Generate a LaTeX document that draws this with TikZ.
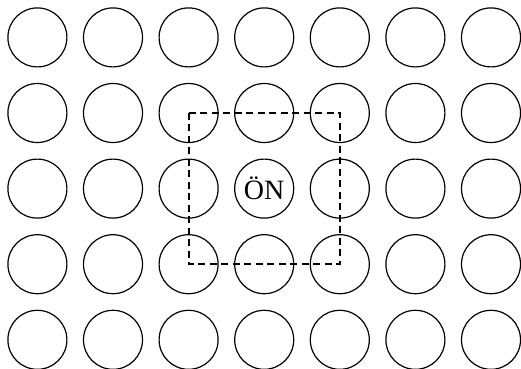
\documentclass[tikz,border=0pt]{standalone}
\usepackage{fontspec}
\setmainfont{Liberation Serif}
\begin{document}
\begin{tikzpicture}[x=1pt,y=-1pt,
  cell/.style={circle,draw=black,line width=1.2pt,minimum size=59pt,inner sep=0pt},
  lbl/.style={font=\fontsize{28}{30}\selectfont},
  win/.style={draw=black,line width=2.2pt,dash pattern=on 7pt off 4.5pt}]
\useasboundingbox (0,0) rectangle (521,368);
\foreach \c in {0,...,6}{
  \foreach \r in {0,...,4}{
    \node[cell] (n\c\r) at ({37.4+75.6*\c},{37.4+75.6*\r}) {};
  }
}
\node[lbl] (on) at (n32) {ÖN};
\draw[win] (n21.center) -| (n43.center) -| (n21.center) -- cycle;
\end{tikzpicture}
\end{document}
